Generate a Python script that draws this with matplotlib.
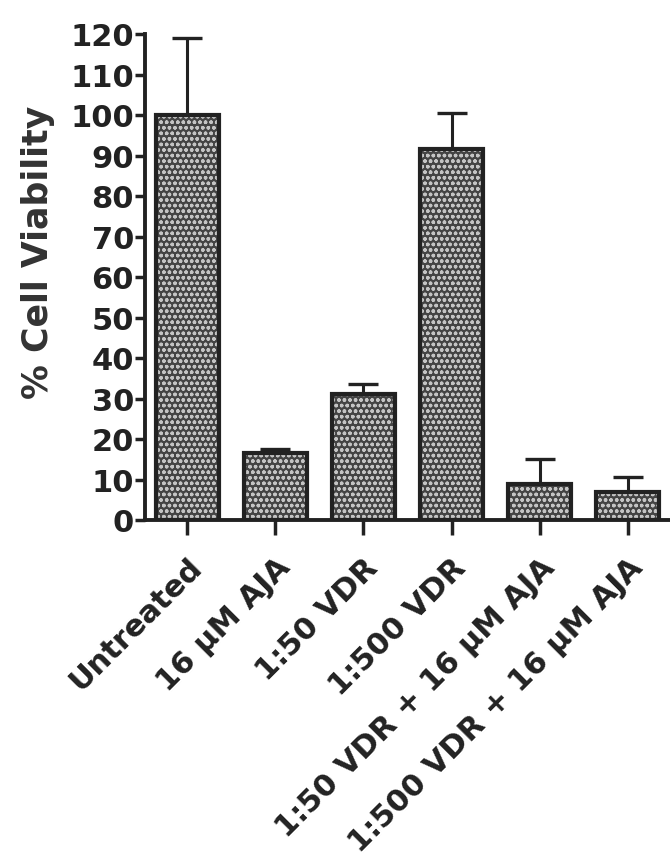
import matplotlib
matplotlib.use("Agg")
import matplotlib.pyplot as plt
import numpy as np

categories = ["Untreated", "16 µM AJA", "1:50 VDR", "1:500 VDR",
              "1:50 VDR + 16 µM AJA", "1:500 VDR + 16 µM AJA"]
viability = [100, 16.5, 31, 91.5, 9, 7]
sem = [19, 1, 2.5, 9, 6, 3.5]
yticks = list(range(0, 121, 10))

plt.rcParams['font.family'] = ['DejaVu Sans']
plt.rcParams['font.weight'] = 'bold'

fig = plt.figure(figsize=(6.7, 8.62), dpi=100)
ax = fig.add_axes([145/670, 1-521/862, 1-145/670, (521-35)/862])

x = np.arange(len(categories))
w = 0.72
ax.errorbar(x, viability, yerr=[np.zeros(len(sem)), sem], fmt='none',
            ecolor='#222222', elinewidth=2.2, capsize=11, capthick=2.4, zorder=1)
ax.bar(x, viability, width=w, color='#444444', edgecolor='#c4c4c4',
       hatch='ooo', linewidth=0, zorder=2)
ax.bar(x, viability, width=w, fill=False, edgecolor='#222222',
       linewidth=3, zorder=3)

ax.set_ylim(0, 120)
ax.set_xlim(-0.48, 5.48)
ax.set_yticks(yticks)
ax.set_yticklabels([str(t) for t in yticks], fontsize=22, fontweight='bold',
                   color='#222222')
ax.set_xticks(x)
ax.set_xticklabels(categories, rotation=45, ha='right', va='top',
                   rotation_mode='anchor', fontsize=22, fontweight='bold',
                   color='#222222')
ax.tick_params(axis='y', length=7, width=2.5, pad=1, color='#222222')
ax.tick_params(axis='x', length=11, width=2.5, pad=12, color='#222222')

for s in ['top', 'right']:
    ax.spines[s].set_visible(False)
for s in ['left', 'bottom']:
    ax.spines[s].set_linewidth(2.8)
    ax.spines[s].set_color('#222222')

ax.set_ylabel('% Cell Viability', fontsize=25, fontweight='bold',
              color='#333333')
ax.yaxis.set_label_coords(-0.172, 0.553)

fig.savefig('out.png', dpi=100)
